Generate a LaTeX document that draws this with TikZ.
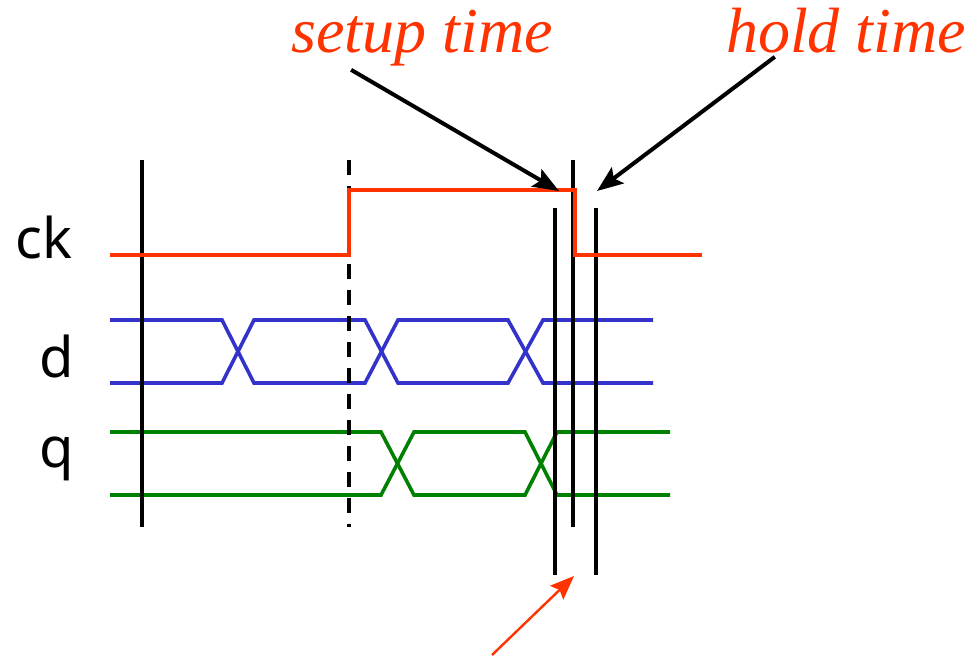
\documentclass[tikz,border=0pt]{standalone}
\usepackage{fontspec}
\setmainfont{Liberation Serif}
\newfontfamily\handfont{Noto Sans}
\usetikzlibrary{arrows.meta,positioning}
\definecolor{clk}{HTML}{FF3300}
\definecolor{dsig}{HTML}{3333CC}
\definecolor{qsig}{HTML}{008000}

\begin{document}
\begin{tikzpicture}[x=1pt,y=-1pt,
  sig/.style={line width=3.6pt},
  bar/.style={line width=3.6pt,black},
  signame/.style={font=\handfont\fontsize{56}{60}\selectfont,anchor=base,inner sep=0pt},
  note/.style={font=\itshape\fontsize{64}{70}\selectfont,text=clk,anchor=base,inner sep=0pt},
  pointer/.style={line width=4pt,-{Stealth[length=26pt,width=20pt,inset=5pt]}}]
  \useasboundingbox (0,0) rectangle (974,657);
  % Signal names
  \node[signame] (ck) at (44,258) {ck};
  \node[signame] (d) at (57,377) {d};
  \node[signame] (q) at (57,467) {q};
  % d bus
  \draw[sig,dsig] (110,320) -- (222,320) -- (254,383) -- (365,383) -- (398,320) -- (508,320) -- (543,383) -- (653,383);
  \draw[sig,dsig] (110,383) -- (222,383) -- (254,320) -- (365,320) -- (398,383) -- (508,383) -- (543,320) -- (653,320);
  % q bus
  \draw[sig,qsig] (110,432) -- (381,432) -- (414,495) -- (525,495) -- (557,432) -- (670,432);
  \draw[sig,qsig] (110,495) -- (381,495) -- (414,432) -- (525,432) -- (557,495) -- (670,495);
  % Time markers
  \draw[bar] (142,160) -- (142,527);
  \draw[bar,dash pattern=on 15pt off 11pt] (349,160) -- (349,527);
  \draw[bar] (573,160) -- (573,527);
  \foreach \x in {555,596}
    \draw[bar] (\x,208) -- (\x,575);
  % Clock
  \draw[sig,clk] (110,255) -- (349,255) -- (349,190) -- (575,190) -- (575,255) -- (702,255);
  % Labels
  \node[note] (setup) at (422,52) {setup time};
  \node[note] (hold) at (846,52) {hold time};
  \coordinate (setuptip) at (559,191);
  \coordinate (holdtip) at (597,191);
  \draw[pointer] ([shift={(60,4)}]setup.south west) -- (setuptip);
  \draw[pointer] ([shift={(49,4)}]hold.south west) -- (holdtip);
  % Window pointer
  \coordinate (wintail) at (492,655);
  \coordinate (wintip) at (574,576);
  \draw[clk,line width=2.4pt,-{Stealth[length=24pt,width=19pt,inset=4pt]}] (wintail) -- (wintip);
\end{tikzpicture}
\end{document}
